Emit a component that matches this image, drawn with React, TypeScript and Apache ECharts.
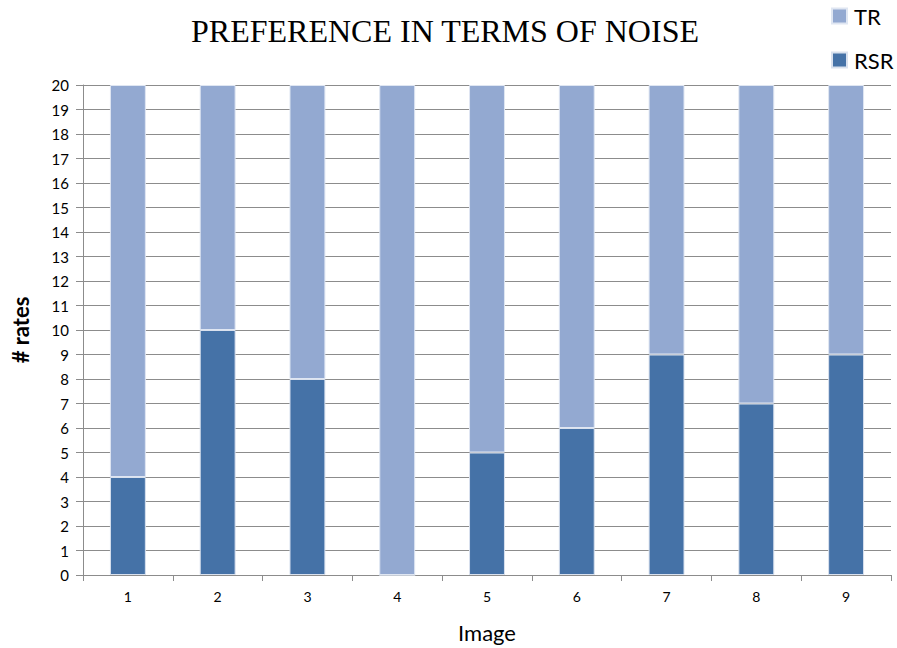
import React, { useEffect, useRef } from "react";
import * as echarts from "echarts";

const categories = ["1", "2", "3", "4", "5", "6", "7", "8", "9"];
const rsrValues = [4, 10, 8, 0, 5, 6, 9, 7, 9];
const trValues = [16, 10, 12, 20, 15, 14, 11, 13, 11];
const titleText = "PREFERENCE IN TERMS OF NOISE";

export default function App() {
  const ref = useRef<HTMLDivElement>(null);
  useEffect(() => {
    const chart = echarts.init(ref.current!, null, { renderer: "svg" });
    chart.setOption({
      animation: false,
      backgroundColor: "#ffffff",
      title: {
        text: titleText,
        left: 440,
        textAlign: "center",
        top: 10,
        textStyle: {
          fontFamily: "Liberation Serif",
          fontWeight: "normal",
          fontSize: 32,
          color: "#000",
        },
      },
      legend: {
        orient: "vertical",
        left: 826,
        top: 0,
        itemGap: 22,
        itemWidth: 15,
        itemHeight: 15,
        icon: "rect",
        data: ["TR", "RSR"],
        textStyle: { fontFamily: "Lato", fontSize: 22, color: "#000", padding: [0, 0, 0, 2] },
      },
      grid: { left: 83, right: 6, top: 85, bottom: 69, containLabel: false },
      xAxis: {
        type: "category",
        data: categories,
        name: "Image",
        nameLocation: "middle",
        nameGap: 46,
        nameTextStyle: { fontFamily: "Lato", fontSize: 22, color: "#000" },
        axisLine: { lineStyle: { color: "#8c8c8c", width: 1 } },
        axisTick: { show: true, length: 6, lineStyle: { color: "#8c8c8c" } },
        axisLabel: { fontFamily: "Lato", fontSize: 14, color: "#000", margin: 14 },
      },
      yAxis: {
        type: "value",
        min: 0,
        max: 20,
        interval: 1,
        name: "# rates",
        nameLocation: "middle",
        nameGap: 52,
        nameTextStyle: { fontFamily: "Lato", fontSize: 22, fontWeight: "bold", color: "#000" },
        axisLine: { show: true, lineStyle: { color: "#8c8c8c", width: 1 } },
        axisTick: { show: true, length: 7, lineStyle: { color: "#8c8c8c" } },
        axisLabel: { fontFamily: "Lato", fontSize: 15, color: "#000", margin: 14 },
        splitLine: { show: true, lineStyle: { color: "#8c8c8c", width: 1 } },
      },
      series: [
        {
          name: "RSR",
          type: "bar",
          stack: "total",
          data: rsrValues,
          barWidth: "40%",
          itemStyle: { color: "#4572a7", borderColor: "#d9e1ee", borderWidth: 1 },
        },
        {
          name: "TR",
          type: "bar",
          stack: "total",
          data: trValues,
          barWidth: "40%",
          itemStyle: { color: "#93a9d1", borderColor: "#dfe6f2", borderWidth: 1 },
        },
      ],
    });
    return () => chart.dispose();
  }, []);
  return <div ref={ref} style={{ width: 897, height: 648, position: "absolute", left: 0, top: 0 }} />;
}
